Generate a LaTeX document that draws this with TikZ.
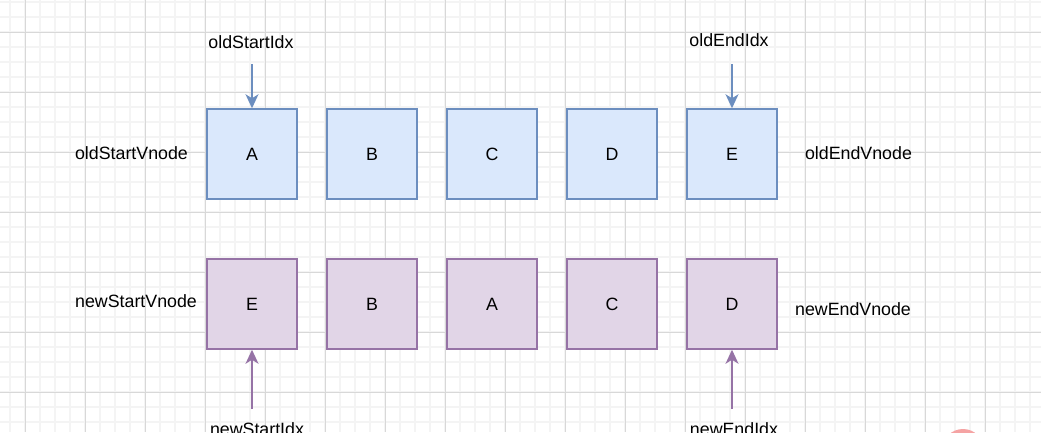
\documentclass[tikz,border=0pt]{standalone}
\usepackage{fontspec}
\setmainfont{Liberation Sans}
\usetikzlibrary{arrows.meta}
\definecolor{bfill}{HTML}{DAE8FC}
\definecolor{bline}{HTML}{6C8EBF}
\definecolor{pfill}{HTML}{E1D5E7}
\definecolor{pline}{HTML}{9673A6}
\definecolor{gminor}{HTML}{F4F4F4}
\definecolor{gmajor}{HTML}{D8D8D8}
\definecolor{pinkc}{HTML}{F5A3A3}
\tikzset{
  oldbox/.style={draw=bline,fill=bfill,line width=1.5pt,minimum size=90pt,inner sep=0pt,font=\fontsize{17.8}{20}\selectfont},
  newbox/.style={draw=pline,fill=pfill,line width=1.5pt,minimum size=90pt,inner sep=0pt,font=\fontsize{17.8}{20}\selectfont},
  lbl/.style={inner sep=0pt,font=\fontsize{17.8}{20}\selectfont,text=black},
  oarr/.style={draw=bline,line width=1.5pt,-{Stealth[length=14pt,width=13pt,inset=4pt]}},
  narr/.style={draw=pline,line width=1.5pt,-{Stealth[length=14pt,width=13pt,inset=4pt]}},
}
\begin{document}
\begin{tikzpicture}[x=1pt,y=-1pt]
\useasboundingbox (0,0) rectangle (1041,432);
\begin{scope}
\clip (0,0) rectangle (1041,432);
\fill[white] (0,0) rectangle (1041,432);
\foreach \x in {10,25,...,1040} \draw[gminor,line width=1.5pt] (\x,0) -- (\x,432);
\foreach \y in {2,17,...,431} \draw[gminor,line width=1.5pt] (0,\y) -- (1041,\y);
\foreach \x in {25,85,...,1040} \draw[gmajor,line width=0.9pt] (\x,0) -- (\x,432);
\foreach \y in {32,92,...,431} \draw[gmajor,line width=0.9pt] (0,\y) -- (1041,\y);
\fill[pinkc] (963,450) circle (21);
\end{scope}
% old row
\node[oldbox] (oA) at (252,154) {A};
\node[oldbox] (oB) at (372,154) {B};
\node[oldbox] (oC) at (492,154) {C};
\node[oldbox] (oD) at (612,154) {D};
\node[oldbox] (oE) at (732,154) {E};
% new row
\node[newbox] (nE) at (252,304) {E};
\node[newbox] (nB) at (372,304) {B};
\node[newbox] (nA) at (492,304) {A};
\node[newbox] (nC) at (612,304) {C};
\node[newbox] (nD) at (732,304) {D};
% labels
\node[lbl] (osv) at (131.5,153) {oldStartVnode};
\node[lbl] (nsv) at (136,301) {newStartVnode};
\node[lbl] (oev) at (858.5,153) {oldEndVnode};
\node[lbl] (nev) at (853,309) {newEndVnode};
\node[lbl] (osi) at (251,42) {oldStartIdx};
\node[lbl] (oei) at (729,40) {oldEndIdx};
\node[lbl] (nsi) at (257,429) {newStartIdx};
\node[lbl] (nei) at (734,429) {newEndIdx};
% arrows
\coordinate (osiE) at (252,64);
\coordinate (oeiE) at (732,64);
\coordinate (nsiE) at (252,409);
\coordinate (neiE) at (732,409);
\draw[oarr] (osiE) -- (oA.north);
\draw[oarr] (oeiE) -- (oE.north);
\draw[narr] (nsiE) -- (nE.south);
\draw[narr] (neiE) -- (nD.south);
\end{tikzpicture}
\end{document}
